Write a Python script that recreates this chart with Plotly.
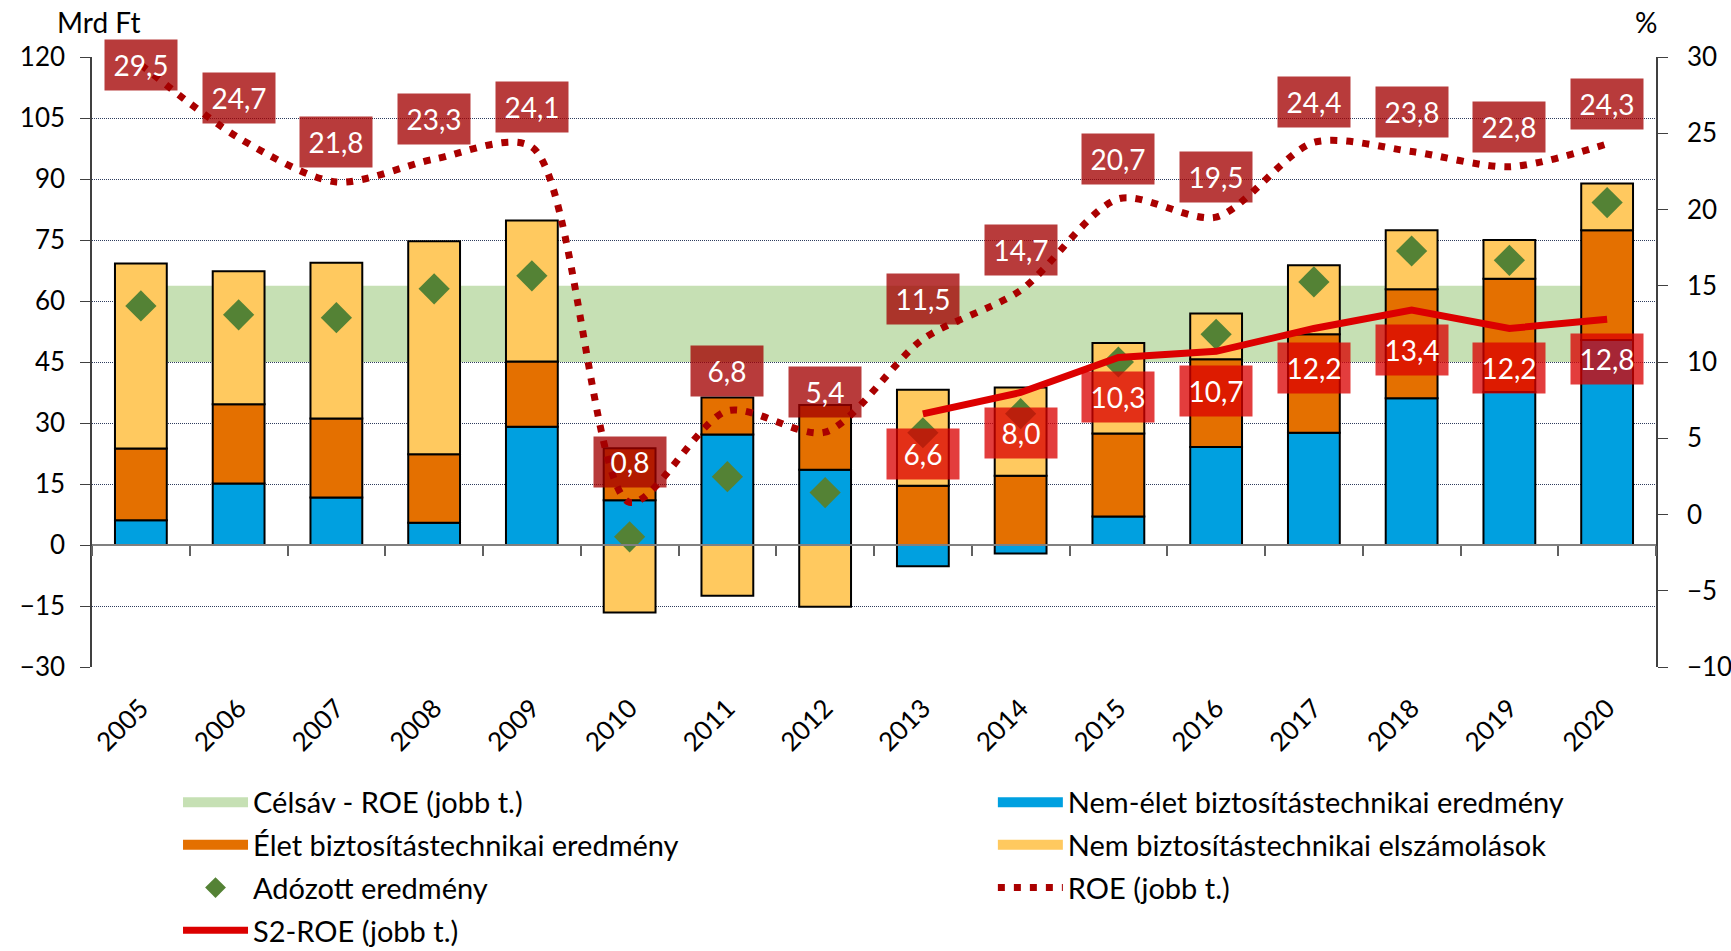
import plotly.graph_objects as go

years = [str(y) for y in range(2005, 2021)]

nonlife = [6.1, 15.1, 11.7, 5.5, 29.1, 11.0, 27.2, 18.5, -5.2, -2.1, 7.0, 24.1, 27.6, 36.1, 37.6, 50.4]
life = [17.6, 19.5, 19.4, 16.8, 16.0, 12.8, 9.1, 15.9, 14.6, 17.0, 20.4, 21.6, 24.2, 26.8, 27.9, 27.0]
nontech = [45.5, 32.7, 38.3, 52.4, 34.7, -16.6, -12.5, -15.2, 23.6, 21.7, 22.3, 11.2, 17.0, 14.5, 9.5, 11.5]
after_tax = [58.8, 56.6, 55.9, 63.0, 66.2, 2.0, 16.8, 12.9, 27.6, 32.3, 45.0, 51.8, 64.7, 72.3, 70.0, 84.2]
roe = [29.5, 24.7, 21.8, 23.3, 24.1, 0.8, 6.8, 5.4, 11.5, 14.7, 20.7, 19.5, 24.4, 23.8, 22.8, 24.3]
s2_roe = [None] * 8 + [6.6, 8.0, 10.3, 10.7, 12.2, 13.4, 12.2, 12.8]
band_low, band_high = 10, 15

left_range = [-30, 120]
right_range = [-10, 30]
left_ticks = list(range(-30, 121, 15))
right_ticks = list(range(-10, 31, 5))

NAME_BAND = "Célsáv - ROE (jobb t.)"
NAME_NONLIFE = "Nem-élet biztosítástechnikai eredmény"
NAME_LIFE = "Élet biztosítástechnikai eredmény"
NAME_NONTECH = "Nem biztosítástechnikai elszámolások"
NAME_TAX = "Adózott eredmény"
NAME_ROE = "ROE (jobb t.)"
NAME_S2 = "S2-ROE (jobb t.)"

FONT = "Lato"
C_BLUE, C_ORANGE, C_YELLOW = "#00A0E0", "#E47000", "#FFC95F"
C_GREEN_BAND, C_DIAMOND = "#C6E0B4", "#548235"
C_ROE, C_S2 = "#AA0000", "#DC0000"

W, H = 1731, 951
ML, MR, MT, MB = 92, 75, 57, 284

xr = [-0.5, len(years) - 0.5]
idx = list(range(len(years)))

fig = go.Figure()

# target band (right axis, main subplot -> drawn beneath bars)
fig.add_trace(go.Scatter(
    x=years + years[::-1], y=[band_high] * len(years) + [band_low] * len(years),
    fill="toself", fillcolor=C_GREEN_BAND, mode="lines",
    line=dict(width=0, color=C_GREEN_BAND), showlegend=False,
    xaxis="x", yaxis="y", hoverinfo="skip"))

bar_line = dict(color="black", width=2)
for vals, col, nm in [(nonlife, C_BLUE, NAME_NONLIFE), (life, C_ORANGE, NAME_LIFE),
                      (nontech, C_YELLOW, NAME_NONTECH)]:
    fig.add_trace(go.Bar(x=years, y=vals, name=nm, marker=dict(color=col, line=bar_line),
                         xaxis="x", yaxis="y2", showlegend=False))

fig.add_trace(go.Scatter(x=years, y=after_tax, mode="markers", name=NAME_TAX,
                         marker=dict(symbol="diamond", size=24, color=C_DIAMOND),
                         xaxis="x", yaxis="y2", legend="legend", legendrank=3,
                         legendgroup="g3"))

fig.add_trace(go.Scatter(x=years, y=roe, mode="lines", name=NAME_ROE,
                         line=dict(color=C_ROE, width=7, dash="7px,9px", shape="spline", smoothing=0.8),
                         xaxis="x", yaxis="y3", legend="legend2", legendrank=3, legendgroup="h3"))
fig.add_trace(go.Scatter(x=years, y=s2_roe, mode="lines", name=NAME_S2,
                         line=dict(color=C_S2, width=7), xaxis="x", yaxis="y3",
                         legend="legend", legendrank=4, legendgroup="g4"))

# legend-only entries (wide colour swatches like the original legend)
for nm, col, lg, rk, grp in [(NAME_BAND, C_GREEN_BAND, "legend", 1, "g1"),
                             (NAME_LIFE, C_ORANGE, "legend", 2, "g2"),
                             (NAME_NONLIFE, C_BLUE, "legend2", 1, "h1"),
                             (NAME_NONTECH, C_YELLOW, "legend2", 2, "h2")]:
    fig.add_trace(go.Scatter(x=[None], y=[None], mode="lines", name=nm,
                             line=dict(color=col, width=10), xaxis="x", yaxis="y2",
                             legend=lg, legendrank=rk, legendgroup=grp, hoverinfo="skip"))

# helper trace for the category axis drawn at zero (invisible)
fig.add_trace(go.Scatter(x=years, y=[0] * len(years), xaxis="x2", yaxis="y2",
                         showlegend=False, hoverinfo="skip", mode="markers",
                         marker=dict(size=1, opacity=0)))

# data labels (x given as category index on the category axis)
for i, v in zip(idx, roe):
    anchor = "middle" if v >= 28 else "bottom"
    fig.add_annotation(x=i, y=v, xref="x", yref="y", text=f"{v:.1f}".replace(".", ","),
                       showarrow=False, yanchor=anchor, yshift=0 if anchor == "middle" else 14,
                       width=70, height=48, bgcolor="rgba(163,0,0,0.77)",
                       font=dict(family=FONT, size=28, color="white"))
for i, v in zip(idx, s2_roe):
    if v is None:
        continue
    fig.add_annotation(x=i, y=v, xref="x", yref="y", text=f"{v:.1f}".replace(".", ","),
                       showarrow=False, yanchor="top", yshift=-14,
                       width=70, height=48, bgcolor="rgba(218,0,0,0.76)",
                       font=dict(family=FONT, size=28, color="white"))

zero_pos = (0 - left_range[0]) / (left_range[1] - left_range[0])
tickfont = dict(family=FONT, size=26, color="black")
legfont = dict(family=FONT, size=29, color="black")

fig.update_layout(
    width=W, height=H, margin=dict(l=ML, r=MR, t=MT, b=MB, autoexpand=False),
    paper_bgcolor="white", plot_bgcolor="white",
    barmode="relative", bargap=0.47,
    font=dict(family=FONT, size=28, color="black"),
    showlegend=True,
    xaxis=dict(type="category", categoryorder="array", categoryarray=years, range=xr,
               tickangle=-45, tickfont=tickfont, showline=False, ticks="",
               ticklabelstandoff=20,
               showgrid=False, zeroline=False, anchor="y"),
    xaxis2=dict(type="category", categoryorder="array", categoryarray=years, range=xr,
                overlaying="x", anchor="free", position=zero_pos,
                showline=True, linecolor="#808080", linewidth=1.5,
                ticks="outside", ticklen=10, tickcolor="#606060", tickwidth=1.5,
                tickson="boundaries", showticklabels=False, showgrid=False, zeroline=False),
    yaxis=dict(side="right", range=right_range, tickvals=right_ticks, ticks="outside",
               ticklen=10, tickcolor="#404040", showline=True, linecolor="#404040", linewidth=1.5,
               showgrid=False, zeroline=False, tickfont=tickfont, ticklabelstandoff=14),
    yaxis2=dict(side="left", overlaying="y", range=left_range, tickvals=left_ticks,
                ticks="outside", ticklen=10, tickcolor="#404040", showline=True,
                linecolor="#404040", linewidth=1.5, showgrid=True, gridcolor="#2F3D5E",
                griddash="1px,1px", gridwidth=1, zeroline=False, tickfont=tickfont,
                ticklabelstandoff=10),
    yaxis3=dict(overlaying="y", range=right_range, visible=False, showgrid=False, zeroline=False),
    legend=dict(orientation="v", x=0.055, y=-0.18, xanchor="left", yanchor="top",
                itemwidth=65, font=legfont, traceorder="grouped", tracegroupgap=2,
                bgcolor="rgba(0,0,0,0)"),
    legend2=dict(orientation="v", x=0.576, y=-0.18, xanchor="left", yanchor="top",
                 itemwidth=65, font=legfont, traceorder="grouped", tracegroupgap=2,
                 bgcolor="rgba(0,0,0,0)"),
    hovermode=False,
)

fig.add_annotation(text="Mrd Ft", xref="paper", yref="paper", x=-0.0234, y=1.0568,
                   xanchor="left", yanchor="middle", showarrow=False,
                   font=dict(family=FONT, size=28, color="black"))
fig.add_annotation(text="%", xref="paper", yref="paper", x=0.9936, y=1.0568,
                   xanchor="center", yanchor="middle", showarrow=False,
                   font=dict(family=FONT, size=28, color="black"))

fig.write_html("out.html", config={"displayModeBar": False},
               post_script="document.body.style.margin='0';document.body.style.overflow='hidden';")
